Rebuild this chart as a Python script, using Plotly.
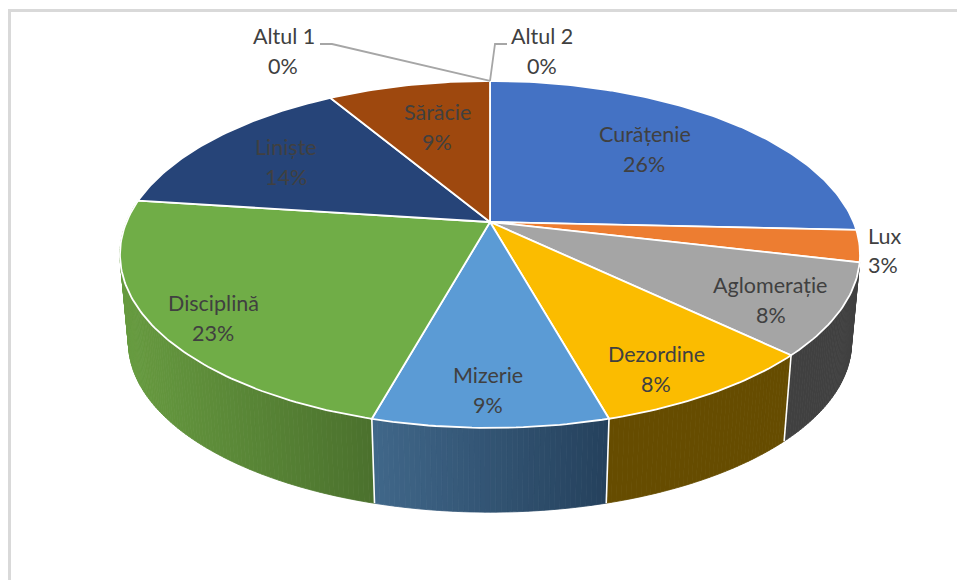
import numpy as np
import plotly.graph_objects as go

categories = ["Curățenie", "Lux", "Aglomerație", "Dezordine", "Mizerie",
              "Disciplină", "Liniște", "Sărăcie", "Altul 1", "Altul 2"]
values = [25.75, 2.95, 8.49, 8.49, 8.62, 22.8, 14.4, 8.51, 0.0, 0.0]

top_colors = ["#4472c4", "#ed7d31", "#a5a5a5", "#fbbc00", "#5b9bd5",
              "#70ad47", "#264478", "#9e480e", "#636363", "#997300"]
side_left = {"Aglomerație": (64, 64, 64), "Dezordine": (102, 76, 0),
             "Mizerie": (64, 103, 138), "Disciplină": (103, 155, 64)}
side_right = {"Aglomerație": (64, 64, 64), "Dezordine": (102, 76, 0),
              "Mizerie": (37, 65, 92), "Disciplină": (75, 113, 45)}

label_name_pos = [(645, 134), (884, 236), (770, 285), (656, 354), (488, 375),
                  (213, 303), (286, 147), (437, 112), (284, 36), (542, 36)]
label_pct_pos = [(644, 164), (883, 265), (771, 315), (656, 384), (488, 405),
                 (213, 333), (286, 177), (437, 142), (283, 66), (542, 66)]
leader_elbows = {"Altul 1": [(320, 44), (332, 44)], "Altul 2": [(507, 44), (495, 44)]}

# Projection of the pie disc on the page
CX, CY, A, B, K = 490.0, 222.0, 363.5, 167.4, 0.187
SHRINK, DEPTH = 0.977, 89.0


def top_point(pct):
    t = np.asarray(pct) / 100 * 2 * np.pi
    u, v = np.sin(t), np.cos(t)
    d = 1 + K * v
    return CX + A * u / d, CY - B * v / d


def bottom_point(pct):
    x, y = top_point(pct)
    return CX + SHRINK * (x - CX), CY + SHRINK * (y - CY) + DEPTH


def rgb(c):
    return "rgb(%d,%d,%d)" % tuple(int(round(i)) for i in c)


total = sum(values)
edges = np.concatenate([[0], np.cumsum(values)]) / total * 100
fig = go.Figure()

# Side wall, split in narrow colour bands following the horizontal shading
for name, p0, p1 in zip(categories, edges[:-1], edges[1:]):
    if name not in side_left:
        continue
    steps = np.linspace(p0, p1, int((p1 - p0) * 5) + 2)
    xs_all = top_point(steps)[0]
    lo, hi = xs_all.min(), xs_all.max()
    # sweep from right to left, so every band slightly covers the one before it
    for s0, s1 in zip(steps[:-1], steps[1:]):
        f = (top_point((s0 + s1) / 2)[0] - lo) / (hi - lo)
        col = rgb([l + (r - l) * f for l, r in zip(side_left[name], side_right[name])])
        tx0, ty0 = top_point(s0)
        tx1, ty1 = top_point(s1)
        bx0, by0 = bottom_point(s0)
        bx1, by1 = bottom_point(s1)
        fig.add_trace(go.Scatter(x=[tx0, tx1, bx1, bx0, tx0], y=[ty0, ty1, by1, by0, ty0],
                                 mode="lines", fill="toself", fillcolor=col,
                                 line=dict(color=col, width=0.8), hoverinfo="skip"))

# White seams between the side panels
for name, p0 in zip(categories, edges[:-1]):
    if name in ("Dezordine", "Mizerie", "Disciplină"):
        tx, ty = top_point(p0)
        bx, by = bottom_point(p0)
        fig.add_trace(go.Scatter(x=[tx, bx], y=[ty, by], mode="lines",
                                 line=dict(color="white", width=1.6), hoverinfo="skip"))

# Top of the pie
for name, p0, p1, col in zip(categories, edges[:-1], edges[1:], top_colors):
    if p1 - p0 <= 0:
        continue
    arc = np.linspace(p0, p1, max(int((p1 - p0) * 4), 6))
    ax, ay = top_point(arc)
    xx = [CX] + list(ax) + [CX]
    yy = [CY] + list(ay) + [CY]
    fig.add_trace(go.Scatter(x=xx, y=yy, mode="lines", fill="toself", fillcolor=col,
                             line=dict(color="white", width=1.8), name=name,
                             hoverinfo="name"))

# Leader lines of the empty slices
for name, p1 in zip(categories, edges[1:]):
    if name in leader_elbows:
        ex, ey = top_point(p1)
        pts = leader_elbows[name]
        fig.add_trace(go.Scatter(x=[p[0] for p in pts] + [float(ex)],
                                 y=[p[1] for p in pts] + [float(ey)], mode="lines",
                                 line=dict(color="#a6a6a6", width=1.8), hoverinfo="skip"))

font = dict(family="Lato, Carlito, Calibri, sans-serif", size=21.5, color="#404040")
annotations = []
for name, v, np_, pp in zip(categories, values, label_name_pos, label_pct_pos):
    annotations.append(dict(x=np_[0], y=np_[1], xref="x", yref="y", text=name,
                            showarrow=False, font=font, xanchor="center", yanchor="middle"))
    annotations.append(dict(x=pp[0], y=pp[1], xref="x", yref="y", text=f"{round(v)}%",
                            showarrow=False, font=font, xanchor="center", yanchor="middle"))

fig.update_layout(
    width=957, height=580, margin=dict(l=0, r=0, t=0, b=0),
    paper_bgcolor="white", plot_bgcolor="white", showlegend=False,
    xaxis=dict(range=[0, 957], visible=False, fixedrange=True),
    yaxis=dict(range=[580, 0], visible=False, fixedrange=True),
    annotations=annotations,
    shapes=[dict(type="rect", xref="x", yref="y", x0=9.5, y0=10.5, x1=990, y1=620,
                 line=dict(color="#d9d9d9", width=3), layer="below")],
)
fig.write_html("out.html", config=dict(displayModeBar=False),
               post_script="document.body.style.margin='0';")
